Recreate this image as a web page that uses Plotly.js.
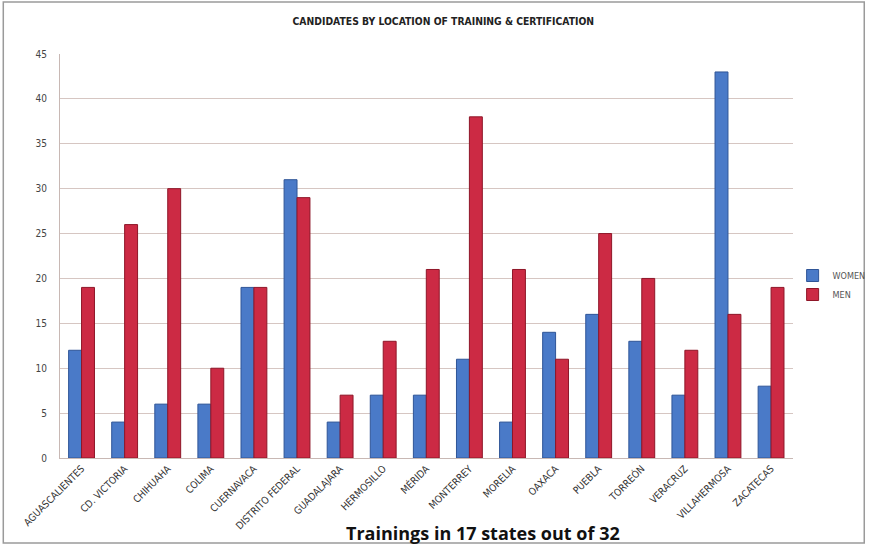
<!DOCTYPE html>
<html><head><meta charset="utf-8">
<script src="https://cdn.plot.ly/plotly-3.0.1.min.js"></script>
<style>html,body{margin:0;padding:0;background:#fff}#chart{width:871px;height:546px}</style>
</head><body><div id="chart"></div>
<script>
const categories = ["AGUASCALIENTES","CD. VICTORIA","CHIHUAHA","COLIMA","CUERNAVACA","DISTRITO FEDERAL","GUADALAJARA","HERMOSILLO","MÉRIDA","MONTERREY","MORELIA","OAXACA","PUEBLA","TORREÓN","VERACRUZ","VILLAHERMOSA","ZACATECAS"];
const women = [12,4,6,6,19,31,4,7,7,11,4,14,16,13,7,43,8];
const men   = [19,26,30,10,19,29,7,13,21,38,21,11,25,20,12,16,19];
const yTicks = [0,5,10,15,20,25,30,35,40,45];

const narrow = '"DejaVu Sans Condensed", "Liberation Sans Narrow", Arial, sans-serif';
const data = [
  {type:'bar', name:'WOMEN', x:categories, y:women,
   marker:{color:'#4A7AC8', line:{color:'#2F5597', width:1}}},
  {type:'bar', name:'MEN', x:categories, y:men,
   marker:{color:'#CC2A44', line:{color:'#8E1628', width:1}}}
];
const layout = {
  width:871, height:546,
  margin:{l:60, r:75, t:54, b:88},
  paper_bgcolor:'#fff', plot_bgcolor:'#fff',
  barmode:'group', bargap:0.4, bargroupgap:0,
  title:{text:'<b>CANDIDATES BY LOCATION OF TRAINING & CERTIFICATION</b>', x:0.509, xanchor:'center', y:0.961, yanchor:'middle',
         font:{family:narrow, size:10.3, color:'#222'}},
  xaxis:{tickangle:-45, tickfont:{family:narrow, size:10, color:'#333'}, showline:true, linecolor:'#c8b8b4', linewidth:1, ticks:'', automargin:false},
  yaxis:{range:[0,45], tickvals:yTicks, tickfont:{family:narrow, size:10, color:'#444'}, showgrid:true, gridcolor:'#d6c6c2', gridwidth:1,
         showline:true, linecolor:'#c8b8b4', zeroline:true, zerolinecolor:'#c8b8b4', ticks:'', ticklen:0, ticklabelstandoff:10, automargin:false},
  legend:{xref:'container', yref:'container', x:0.91, y:0.478, xanchor:'left', yanchor:'middle',
          font:{family:narrow, size:9, color:'#555'}, itemwidth:30, bgcolor:'rgba(0,0,0,0)'},
  showlegend:true,
  annotations:[{text:'<b>Trainings in 17 states out of 32</b>', xref:'paper', yref:'paper', x:0.578, y:-0.185, xanchor:'center', yanchor:'middle',
                showarrow:false, font:{family:'"Open Sans", Arial, sans-serif', size:18, color:'#111'}}],
  shapes:[{type:'rect', xref:'paper', yref:'paper', x0:-0.0774, x1:1.0978, y0:-0.2104, y1:1.1287, line:{color:'#9a9a9a', width:1.5}, fillcolor:'rgba(0,0,0,0)'}]
};
Plotly.newPlot('chart', data, layout, {displayModeBar:false, staticPlot:true});
</script></body></html>
